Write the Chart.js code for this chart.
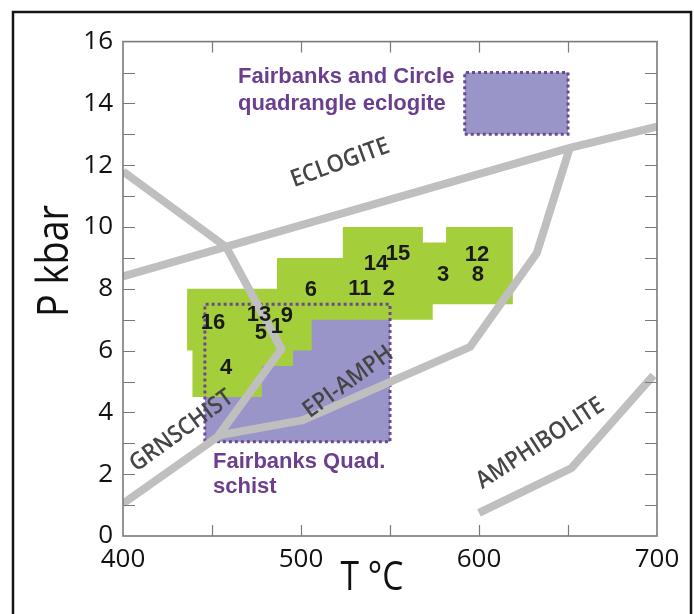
<!DOCTYPE html>
<html>
<head>
<meta charset="utf-8">
<script src="https://cdn.jsdelivr.net/npm/chart.js@4/dist/chart.umd.min.js"></script>
<style>
  html, body { margin: 0; padding: 0; background: #ffffff; }
  #wrap { position: relative; width: 694px; height: 614px; }
</style>
</head>
<body>
<div id="wrap"><canvas id="pt" width="694" height="614"></canvas></div>
<script>
// ---- axes ----
const xTickValues = [400, 500, 600, 700];
const yTickValues = [0, 2, 4, 6, 8, 10, 12, 14, 16];
const xMinorTicks = [450, 500, 550, 600, 650];
const yMinorTicks = [1, 2, 3, 4, 5, 6, 7, 8, 9, 10, 11, 12, 13, 14, 15];

// ---- facies boundaries (T in °C, P in kbar) ----
const eclogiteT = [400, 651, 700];
const eclogiteP = [8.4, 12.56, 13.25];
const grnschistT = [400, 458, 489, 453, 400];
const grnschistP = [11.8, 9.35, 6.05, 3.2, 1.05];
const epiAmphT = [453, 501, 595, 632.5, 651];
const epiAmphP = [3.25, 3.75, 6.12, 9.16, 12.56];
const amphiboliteT = [600, 652, 698];
const amphiboliteP = [0.75, 2.2, 5.2];

// ---- metapelite P-T field ----
const fieldT = [436, 486.5, 486.5, 523.5, 523.5, 568.5, 568.5, 581.5, 581.5, 619, 619, 574, 574, 506, 506, 495.5, 495.5, 478, 478, 439, 439, 436, 436];
const fieldP = [8, 8, 9, 9, 10, 10, 9.5, 9.5, 10, 10, 7.5, 7.5, 7, 7, 6, 6, 5.5, 5.5, 4.5, 4.5, 6, 6, 8];

// ---- Fairbanks Quad. schist and eclogite boxes ----
const schistT = [446, 550, 550, 446, 446];
const schistP = [3.05, 3.05, 7.5, 7.5, 3.05];
const eclogiteBoxT = [592, 650, 650, 592, 592];
const eclogiteBoxP = [13, 13, 15, 15, 13];

// ---- samples ----
const sampleIds = ['16', '13', '5', '1', '9', '4', '6', '11', '2', '14', '15', '3', '12', '8'];
const sampleT = [450.6, 476.4, 477.5, 486.5, 492.1, 457.9, 505.6, 533.1, 549.4, 542.1, 554.5, 579.8, 598.9, 599.4];
const sampleP = [6.89, 7.15, 6.57, 6.76, 7.12, 5.44, 7.96, 7.99, 7.99, 8.8, 9.13, 8.45, 9.09, 8.45];

// ---- text ----
const faciesNames = ['ECLOGITE', 'GRNSCHIST', 'EPI-AMPH', 'AMPHIBOLITE'];
const eclogiteCaption = ['Fairbanks and Circle', 'quadrangle eclogite'];
const schistCaption = ['Fairbanks Quad.', 'schist'];

// placement of the facies names: [T, P, rotation in degrees]
const faciesNameLayout = [[522, 12.07, -20], [433, 3.4, -36], [526.5, 4.98, -36], [634.5, 3.0, -33]];

const pts = (xs, ys) => xs.map((x, i) => ({ x: x, y: ys[i] }));

const GRAY = '#bfbfbf';
const PURPLE_FILL = '#9a95c9';
const PURPLE_EDGE = '#6a4a8a';
const GREEN = '#a5cf3a';

const boundary = (data) => ({
  data: data, borderColor: GRAY, borderWidth: 8, pointRadius: 0, fill: false,
  tension: 0, borderJoinStyle: 'miter', borderCapStyle: 'butt', clip: 0, order: 2
});

// draws text squeezed horizontally, centred on (cx, cy)
function narrowText(ctx, text, cx, cy, rot, squeeze) {
  ctx.save();
  ctx.translate(cx, cy);
  ctx.rotate(rot);
  ctx.scale(squeeze, 1);
  ctx.fillText(text, 0, 0);
  ctx.restore();
}

const decorations = {
  id: 'decorations',
  afterDatasetsDraw(chart) {
    const { ctx, chartArea: a, scales: { x, y } } = chart;
    ctx.save();
    // plot frame and inward ticks
    ctx.strokeStyle = '#7a7a7a';
    ctx.lineWidth = 1.6;
    ctx.strokeRect(a.left, a.top, a.right - a.left, a.bottom - a.top);
    ctx.lineWidth = 1.2;
    ctx.beginPath();
    xMinorTicks.forEach(t => {
      const px = Math.round(x.getPixelForValue(t)) + 0.5;
      ctx.moveTo(px, a.bottom); ctx.lineTo(px, a.bottom - 11);
      ctx.moveTo(px, a.top); ctx.lineTo(px, a.top + 11);
    });
    yMinorTicks.forEach(p => {
      const py = Math.round(y.getPixelForValue(p)) + 0.5;
      ctx.moveTo(a.left, py); ctx.lineTo(a.left + 12, py);
      ctx.moveTo(a.right, py); ctx.lineTo(a.right - 12, py);
    });
    ctx.stroke();

    // sample numbers
    ctx.fillStyle = '#1a1a1a';
    ctx.font = 'bold 22px "Liberation Sans", Arial, sans-serif';
    ctx.textAlign = 'center';
    ctx.textBaseline = 'middle';
    const meta = chart.getDatasetMeta(chart.data.datasets.findIndex(d => d.label === 'samples'));
    meta.data.forEach((el, i) => ctx.fillText(sampleIds[i], el.x, el.y));

    // facies names
    ctx.fillStyle = '#454545';
    ctx.font = '600 24px "Open Sans", sans-serif';
    faciesNames.forEach((name, i) => {
      const [t, p, rot] = faciesNameLayout[i];
      narrowText(ctx, name, x.getPixelForValue(t), y.getPixelForValue(p), rot * Math.PI / 180, 0.92);
    });

    // captions
    ctx.fillStyle = '#6b3f8d';
    ctx.font = 'bold 22px "Liberation Sans", Arial, sans-serif';
    ctx.textAlign = 'left';
    eclogiteCaption.forEach((line, i) => ctx.fillText(line, x.getPixelForValue(464.6), y.getPixelForValue(14.85) + i * 27));
    schistCaption.forEach((line, i) => ctx.fillText(line, x.getPixelForValue(450.6), y.getPixelForValue(2.39) + i * 25));
    ctx.restore();
  },
  afterDraw(chart) {
    const { ctx } = chart;
    ctx.save();
    // axis titles
    ctx.fillStyle = '#111111';
    ctx.textAlign = 'center';
    ctx.textBaseline = 'middle';
    ctx.font = '41px "Open Sans", sans-serif';
    narrowText(ctx, 'T \u00B0C', 372, 578, 0, 0.82);
    ctx.font = '43px "Open Sans", sans-serif';
    narrowText(ctx, 'P kbar', 56, 261, -Math.PI / 2, 0.88);
    // figure border
    ctx.strokeStyle = '#151515';
    ctx.lineWidth = 2.5;
    ctx.strokeRect(13, 12, 678, 700);
    ctx.restore();
  }
};

const tickFont = { family: 'Open Sans', size: 26 };

new Chart(document.getElementById('pt'), {
  type: 'line',
  data: {
    datasets: [
      { label: 'schist-fill', data: pts(schistT, schistP), borderWidth: 0, borderColor: 'rgba(0,0,0,0)',
        backgroundColor: PURPLE_FILL, fill: 'shape', pointRadius: 0, tension: 0, order: 6 },
      { label: 'field', data: pts(fieldT, fieldP), borderWidth: 0, borderColor: 'rgba(0,0,0,0)',
        backgroundColor: GREEN, fill: 'shape', pointRadius: 0, tension: 0, order: 5 },
      { label: 'schist-edge', data: pts(schistT, schistP), borderColor: PURPLE_EDGE, borderWidth: 3,
        borderDash: [3, 3], fill: false, pointRadius: 0, tension: 0, order: 4 },
      { label: 'eclogite-box', data: pts(eclogiteBoxT, eclogiteBoxP), borderColor: PURPLE_EDGE, borderWidth: 3,
        borderDash: [3, 3], backgroundColor: PURPLE_FILL, fill: 'shape', pointRadius: 0, tension: 0, order: 4 },
      Object.assign({ label: 'eclogite' }, boundary(pts(eclogiteT, eclogiteP))),
      Object.assign({ label: 'grnschist' }, boundary(pts(grnschistT, grnschistP))),
      Object.assign({ label: 'epi-amph' }, boundary(pts(epiAmphT, epiAmphP))),
      Object.assign({ label: 'amphibolite' }, boundary(pts(amphiboliteT, amphiboliteP))),
      { label: 'samples', data: pts(sampleT, sampleP), showLine: false, pointRadius: 0, order: 1 }
    ]
  },
  options: {
    responsive: false,
    animation: false,
    devicePixelRatio: 1,
    layout: { padding: { top: 41.6, right: 37, left: 0, bottom: 0 } },
    plugins: { legend: { display: false }, tooltip: { enabled: false } },
    scales: {
      x: {
        type: 'linear', min: 400, max: 700,
        grid: { display: false, drawTicks: false }, border: { display: false },
        afterBuildTicks: s => { s.ticks = xTickValues.map(v => ({ value: v })); },
        ticks: { color: '#111111', padding: 8, maxRotation: 0, font: tickFont },
        afterFit: s => { s.height = 78; }
      },
      y: {
        type: 'linear', min: 0, max: 16,
        grid: { display: false, drawTicks: false }, border: { display: false },
        afterBuildTicks: s => { s.ticks = yTickValues.map(v => ({ value: v })); },
        ticks: { color: '#111111', padding: 10, font: tickFont },
        afterFit: s => { s.width = 123; }
      }
    }
  },
  plugins: [decorations]
});
</script>
</body>
</html>
